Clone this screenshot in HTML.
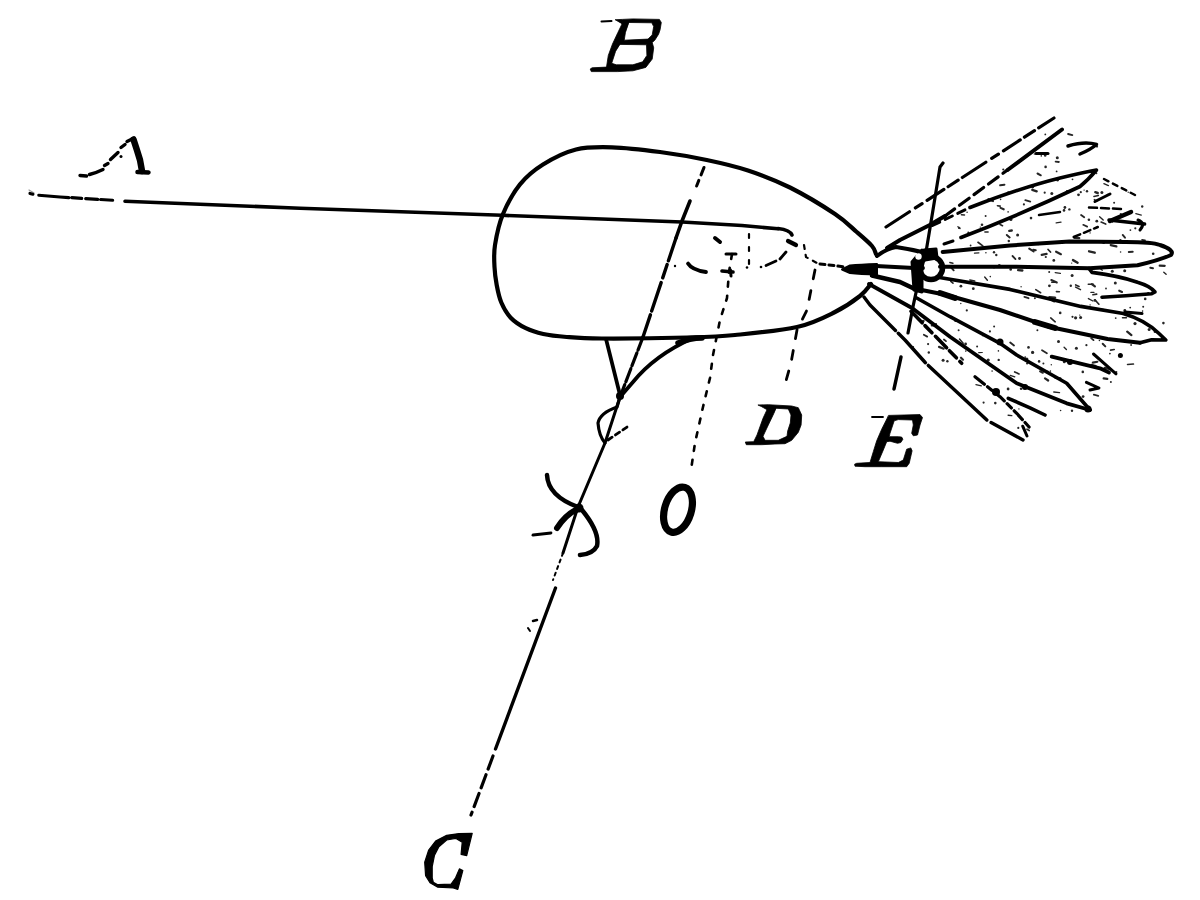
<!DOCTYPE html>
<html><head><meta charset="utf-8"><style>
html,body{margin:0;padding:0;background:#fff;width:1200px;height:900px;overflow:hidden}
svg{display:block}
</style></head><body>
<svg width="1200" height="900" viewBox="0 0 1200 900">
<g fill="none" stroke="#000" stroke-linecap="round" stroke-linejoin="round">
<path d="M30.0 193.5 L36.0 195.0 L60.0 197.0 L117.0 200.5" stroke-width="3.2" stroke-dasharray="3 6 30 3 10 4 12 3 12 40"/>
<path d="M29.0 190.0 L34.0 193.0" stroke-width="1.2" stroke-opacity="0.4"/>
<path d="M125.0 201.3 L300.0 208.2 L502.0 215.3 L682.0 222.0 L742.0 225.5 L778.0 228.8" stroke-width="3.6"/>
<path d="M778 228.5 Q790 230 792 235" stroke-width="3.6"/>
<path d="M876.0 254.0 C875.3 252.7 875.2 249.7 872.0 246.0 C868.8 242.3 862.9 237.3 856.7 232.0 C850.5 226.7 846.1 221.4 835.0 214.0 C823.9 206.6 804.5 194.8 790.0 187.5 C775.5 180.2 761.9 175.1 748.0 170.5 C734.1 165.9 721.4 163.1 706.7 160.0 C692.0 156.9 675.8 154.1 660.0 152.0 C644.2 149.9 626.0 147.7 612.0 147.3 C598.0 146.9 587.5 146.6 576.0 149.5 C564.5 152.4 552.3 158.7 543.0 164.5 C533.7 170.3 526.7 176.1 520.0 184.3 C513.3 192.6 507.2 203.9 503.0 214.0 C498.8 224.1 496.4 236.2 495.0 245.0 C493.6 253.8 494.2 260.3 494.5 267.0 C494.8 273.7 495.6 279.1 496.7 285.0 C497.8 290.9 499.0 297.1 501.3 302.5 C503.6 307.9 506.6 313.4 510.7 317.7 C514.8 322.0 520.4 325.5 525.8 328.2 C531.2 330.9 536.5 332.5 543.3 334.0 C550.1 335.5 557.0 336.2 566.7 337.0 C576.4 337.8 581.7 338.4 601.7 338.5 C621.8 338.6 664.8 338.1 687.0 337.5 C709.2 336.9 716.7 336.8 735.0 335.0 C753.3 333.2 780.3 330.8 797.0 327.0 C813.7 323.2 824.5 317.2 835.0 312.0 C845.5 306.8 854.0 300.7 860.0 296.0 C866.0 291.3 869.2 286.0 871.0 284.0" stroke-width="4.2"/>
<path d="M788.0 241.0 L796.0 245.0" stroke-width="4.2"/>
<path d="M786.0 252.0 L780.0 259.0" stroke-width="2.8"/>
<path d="M776.0 261.0 L766.0 265.5" stroke-width="2.8"/>
<circle cx="761" cy="267" r="1.3" fill="#000" stroke="none"/><circle cx="747" cy="267.5" r="1.3" fill="#000" stroke="none"/><circle cx="675" cy="266" r="1.2" fill="#000" stroke="none"/>
<path d="M722.0 271.0 L733.0 272.0" stroke-width="3.6"/>
<path d="M730.5 270.0 L731.0 276.0" stroke-width="3"/>
<path d="M688 263.5 Q692 270 706 272" stroke-width="3.8"/>
<path d="M715.0 238.0 L720.0 242.0" stroke-width="4"/>
<path d="M726.0 254.0 L736.0 254.0" stroke-width="3"/>
<path d="M749.0 234.0 L749.0 268.0" stroke-width="2.2" stroke-dasharray="4 9"/>
<path d="M804.0 245.0 L806.0 257.0 L817.0 263.0" stroke-width="2.2" stroke-dasharray="4 6"/>
<path d="M820.0 264.0 L846.0 267.0" stroke-width="3" stroke-dasharray="5 4"/>
<path d="M707.0 160.0 L695.0 190.0" stroke-width="3" stroke-dasharray="0 8 8 6 6 40"/>
<path d="M690.0 201.0 L682.0 221.0 L676.0 238.0" stroke-width="3.6"/>
<path d="M676.0 238.0 L643.0 337.0" stroke-width="3.4" stroke-dasharray="24 4 14 5 30 4 40"/>
<path d="M643.0 337.0 L620.0 397.0" stroke-width="3.2" stroke-dasharray="14 3"/>
<path d="M620.0 397.0 L605.0 443.0 L578.0 507.0 L563.0 553.0" stroke-width="3"/>
<path d="M563.0 553.0 L553.0 580.0" stroke-width="2" stroke-dasharray="3 4"/>
<path d="M555.5 588.0 L495.5 749.0" stroke-width="3.4"/>
<path d="M533.0 621.0 L537.0 620.0" stroke-width="2.5"/>
<path d="M528.0 628.0 L530.0 631.0" stroke-width="2"/>
<path d="M493.0 756.0 L471.0 815.0" stroke-width="3.2" stroke-dasharray="14 6"/>
<path d="M732.0 254.0 L729.0 272.0 L727.0 298.0 L720.0 320.0 L713.0 355.0 L710.0 378.0 L703.0 407.0 L695.0 443.0 L691.0 470.0" stroke-width="2.6" stroke-dasharray="5 9"/>
<path d="M815.0 270.0 L807.0 310.0 L797.0 330.0 L791.0 363.0 L784.0 388.0" stroke-width="2.8" stroke-dasharray="9 12"/>
<path d="M943.0 163.0 L940.0 167.0 L932.0 216.0 L926.5 249.0 L918.7 280.0 L913.0 306.7 L908.0 333.0" stroke-width="3.2"/>
<path d="M901.0 357.0 L894.0 389.0" stroke-width="3.5"/>
<path d="M606.0 339.0 L620.0 395.0" stroke-width="3.8"/>
<path d="M693 338 Q655 355 633 382 L620 397" stroke-width="3.8"/>
<path d="M678 343 Q690 338 702 338" stroke-width="5.5"/>
<path d="M620 397 L617 407 Q600 413 598 423 Q599 436 605 443" stroke-width="3.2"/>
<path d="M608.0 440.0 L630.0 425.0" stroke-width="2.8" stroke-dasharray="5 4"/>
<circle cx="620" cy="396" r="4" fill="#000" stroke="none"/>
<path d="M547 475 Q548 496 578 507" stroke-width="4.5"/>
<path d="M578 509 Q566 514 557 528" stroke-width="6"/>
<path d="M533.0 535.0 L551.0 533.0" stroke-width="2.8"/>
<path d="M582 510 Q600 532 597 546 Q593 554 580 555" stroke-width="4.5"/>
<circle cx="579" cy="508" r="4.5" fill="#000" stroke="none"/>
<path d="M842 269.5 L850 265.5 Q860 264.5 877 264 L877 274.5 Q860 274 850 273 Z" fill="#000" stroke-width="2"/>
<path d="M877 256 Q886 249 896 247 Q910 249 926 253" stroke-width="4"/>
<path d="M876 266 L914 268 L923 268" stroke-width="3.8"/>
<path d="M872 275.5 L900 282 L917 290" stroke-width="4.5"/>
<path d="M912 262 L914 290 L922 292 L922 250 Z" fill="#000" stroke-width="3"/>
<circle cx="931" cy="268" r="11.5" stroke-width="5.5"/>
<path d="M924 250 L936 249 L937 258 L925 260 Z" fill="#000" stroke-width="3"/>
<circle cx="918.5" cy="256.5" r="3.2" fill="#fff" stroke="none"/>
<path d="M886.0 227.0 L1054.0 118.0" stroke-width="3.2" stroke-dasharray="28 7 8 6 20 5 12 5"/>
<path d="M887.0 248.0 L900.0 240.0 L929.3 225.3 L945.0 216.0" stroke-width="4"/>
<path d="M945.0 216.0 L1007.5 170.0" stroke-width="3.2" stroke-dasharray="12 6"/>
<path d="M1007.5 170.0 L1062.0 129.5" stroke-width="4"/>
<path d="M1036.0 153.5 L1048.0 153.5" stroke-width="3"/>
<path d="M1068 146 Q1085 141 1096.5 144.5 Q1090 150 1080 154" stroke-width="3.5"/>
<path d="M932.5 225.5 L970.0 207.5" stroke-width="3" stroke-dasharray="8 6"/>
<path d="M970 207.5 Q1020 188 1060 178 Q1085 172 1096.5 170 Q1088 180 1080 186.5 Q1020 215 961 237.5" stroke-width="3.6"/>
<path d="M944.0 244.0 L953.0 241.0" stroke-width="3"/>
<path d="M1039.0 215.0 L1060.0 212.0" stroke-width="2.5"/>
<path d="M1089.0 207.5 L1122.0 209.0" stroke-width="2.5" stroke-dasharray="8 4"/>
<path d="M1095.0 201.5 L1110.0 194.0" stroke-width="3"/>
<path d="M1104.0 179.0 L1135.0 195.0" stroke-width="2.5" stroke-dasharray="5 5"/>
<path d="M1110.0 221.0 L1131.0 212.0" stroke-width="4.5"/>
<path d="M1138 220 Q1146 223 1140 230" stroke-width="3"/>
<path d="M1109.0 220.0 L1144.6 224.0" stroke-width="3.5"/>
<path d="M1073.7 237.0 L1097.8 227.0" stroke-width="2.5" stroke-dasharray="7 4"/>
<path d="M942.7 252 L1010 245.5 L1069.5 241.5 L1126 242 Q1152 242 1160 245 Q1175 250 1171 255 Q1160 260 1137.5 265.3 L1089.3 268.2 L1010 266.7 L940 266.7" stroke-width="4"/>
<path d="M1089 268.5 L1092 272.4 Q1120 276 1137.5 282.3 Q1150 286 1155 292 L1151.7 293.7 Q1125 296 1102 297.2" stroke-width="3.6"/>
<path d="M938 277.3 L1010 289.4 L1080.8 306.4 L1123.3 313.5 Q1145 320 1158.7 333.3 L1165.8 340 L1151.6 339.8 L1140 342.7" stroke-width="3.6"/>
<path d="M921.7 290 L946.7 295 L1000 310 L1050 327 L1107.6 339 L1140 342.7" stroke-width="4"/>
<path d="M940 293 L955 298" stroke-width="6"/>
<path d="M1035 322 L1055 328" stroke-width="6"/>
<path d="M1125.0 312.0 L1142.0 313.5" stroke-width="3"/>
<path d="M1051.7 356.7 L1100.0 368.3 L1109.0 372.4" stroke-width="3.8"/>
<path d="M1093.5 354.0 L1116.0 373.8" stroke-width="3"/>
<circle cx="1120.4" cy="355.4" r="2.5" fill="#000" stroke="none"/>
<circle cx="1070" cy="362" r="3" fill="#000" stroke="none"/>
<path d="M916.7 298 L950 316.7 L1000 343.3 L1016.7 355 L1066.7 383.3 L1090 410" stroke-width="3.6"/>
<path d="M869 284 L912 308 L950 336.7 L1016.7 383.3 L1066.7 403.3 L1090 410" stroke-width="3.8"/>
<circle cx="1000" cy="342" r="3.5" fill="#000" stroke="none"/>
<circle cx="1025" cy="387" r="3" fill="#000" stroke="none"/>
<circle cx="1088" cy="409" r="3.5" fill="#000" stroke="none"/>
<path d="M1086.4 382.3 L1099 388 L1090 390" stroke-width="3"/>
<path d="M911.0 311.3 L961.7 363.3" stroke-width="3.6" stroke-dasharray="16 4 10 5"/>
<path d="M864.0 297.0 L870.0 305.0 L905.0 340.0 L925.2 362.5 L987.5 420.6 L1023.0 440.0" stroke-width="3.4" stroke-dasharray="46 4 40 4 80 5"/>
<path d="M975.0 376.7 L1000.0 396.7 L1016.7 413.3 L1030.0 428.0" stroke-width="3.2" stroke-dasharray="12 4 6 4"/>
<circle cx="996" cy="392" r="4" fill="#000" stroke="none"/>
<path d="M1008.3 398.3 L1030.0 407.8 L1045.0 415.0" stroke-width="3.6"/>
<path d="M1022.7 426.2 L1027.0 436.0" stroke-width="3"/>
</g>
<g fill="none" stroke="#000" stroke-linecap="round" stroke-linejoin="round">
<path d="M615.5 19.7 L622.3 19.4 L632.9 18.9 L659.4 19.4 L661.3 22.5 L660.1 29.7 L658.6 34.2 L654.8 40.2 L652.2 42.5 L653.7 47.8 L652.2 59.1 L645.8 67.4 L632.9 70.8 L617.8 71.6 L591.3 71.6 L590.2 69.0 L592.1 67.8 L606.5 67.1 L608.3 55.4 L612.5 44.0 L617.8 32.7 L622.0 24.0 Z M629.1 22.5 L651.8 22.8 L653.7 26.6 L652.2 34.9 L648.0 39.1 L624.2 40.2 L625.4 32.7 Z M620.1 44.4 L646.5 44.8 L646.9 55.4 L642.7 61.8 L632.9 64.8 L616.3 64.8 L611.7 63.3 L615.5 51.6 Z" fill="#000" fill-rule="evenodd" stroke="#000" stroke-width="0.8"/>
<path d="M601.5 21.5 L611.5 21" stroke-width="2"/>
<path d="M758.3 405.0 L768.3 404.7 L791.7 406.0 L798.3 407.7 L801.7 415.0 L801.1 425.0 L798.3 432.3 L791.7 440.3 L785.0 443.7 L775.0 444.0 L761.7 444.7 L746.3 444.7 L745.3 442.0 L753.7 441.7 L757.0 435.0 L763.0 418.3 L767.0 409.7 L761.7 406.7 Z M776.3 408.3 L788.3 409.0 L791.0 415.0 L790.3 423.0 L787.7 431.0 L787.0 436.3 L778.3 440.3 L765.0 440.3 L763.0 436.3 L768.3 425.0 L773.7 413.7 Z" fill="#000" fill-rule="evenodd" stroke="#000" stroke-width="0.8"/>
<path d="M888.8 415.4 L920.0 414.6 L922.5 417.5 L920.0 425.0 L917.5 435.0 L913.3 435.8 L911.7 433.3 L913.3 425.0 L912.5 420.0 L898.3 419.6 L894.2 420.8 L890.0 433.3 L889.2 436.7 L898.3 436.7 L901.7 437.1 L902.9 439.2 L900.8 442.5 L897.5 443.3 L890.0 441.2 L886.7 441.7 L883.3 450.0 L878.3 461.7 L898.3 462.5 L903.3 460.0 L906.7 449.2 L910.8 447.9 L912.1 450.8 L909.2 463.3 L906.7 466.7 L881.7 466.7 L865.0 466.7 L855.0 466.2 L854.6 464.2 L856.7 463.3 L870.0 462.5 L873.3 451.7 L876.7 440.8 L881.7 429.2 L886.7 419.2 Z" fill="#000" stroke="#000" stroke-width="0.8"/>
<path d="M872 417 L883 417" stroke-width="1.8"/>
<path d="M472.2 833.3 L466.7 855.6 L461.1 854.4 L462.2 842.2 L455.6 838.3 L446.7 840.0 L438.9 846.7 L434.4 855.6 L432.2 866.7 L432.2 877.8 L433.3 882.2 L437.8 884.7 L451.1 884.2 L455.6 877.8 L459.4 868.9 L462.8 870.6 L457.8 889.4 L453.3 888.0 L437.8 887.2 L430.0 882.8 L425.6 875.6 L424.7 862.2 L428.7 850.0 L435.6 841.1 L446.7 835.3 L458.9 833.6 Z" fill="#000" stroke="#000" stroke-width="1.2"/>
<path d="M80 175.5 L86.5 176 M89.5 174.5 Q97 172.5 103 169.5 M104.5 165.5 L108 163.5 M110.5 159.5 L118 152.5 M121 147.5 L125 144.5 M127 141.5 L134 138" stroke-width="3.4"/>
<path d="M133.5 139.5 Q137 150 140 160 L142 171" stroke-width="6.5"/>
<path d="M137.5 172 L148.5 172.5" stroke-width="4.5"/>
<circle cx="121" cy="156.5" r="1.5" fill="#000" stroke="none"/>
</g>
<g fill="#000" stroke="none" opacity="0.85"><path d="M1024.4 296.9 l4.1 1.3" stroke="#000" stroke-width="1.9" fill="none" stroke-linecap="round"/><path d="M950.8 281.4 l2.2 1.8" stroke="#000" stroke-width="1.6" fill="none" stroke-linecap="round"/><circle cx="1079.8" cy="315.1" r="0.7"/><circle cx="1045.3" cy="134.4" r="0.9"/><circle cx="1021.1" cy="388.8" r="1.3"/><circle cx="1037.4" cy="330.3" r="1.0"/><circle cx="1131.1" cy="345.0" r="0.9"/><path d="M1110.7 245.1 l5.7 1.3" stroke="#000" stroke-width="2.2" fill="none" stroke-linecap="round"/><path d="M1150.3 267.7 l2.7 0.6" stroke="#000" stroke-width="2.0" fill="none" stroke-linecap="round"/><circle cx="1114.1" cy="202.7" r="1.0"/><circle cx="1053.8" cy="260.4" r="1.4"/><circle cx="936.0" cy="324.2" r="1.1"/><circle cx="983.6" cy="402.6" r="1.1"/><circle cx="1135.0" cy="323.6" r="1.6"/><circle cx="1112.5" cy="221.9" r="0.8"/><circle cx="966.8" cy="310.4" r="1.1"/><path d="M1163.8 272.2 l2.3 2.1" stroke="#000" stroke-width="1.4" fill="none" stroke-linecap="round"/><circle cx="1142.6" cy="311.1" r="0.8"/><circle cx="965.6" cy="344.0" r="1.4"/><circle cx="1064.0" cy="210.4" r="1.3"/><path d="M1053.8 392.0 l5.7 0.6" stroke="#000" stroke-width="1.4" fill="none" stroke-linecap="round"/><circle cx="1057.3" cy="157.8" r="1.5"/><circle cx="1090.1" cy="304.9" r="0.7"/><circle cx="1032.6" cy="352.4" r="1.6"/><path d="M1102.7 343.7 l2.6 2.7" stroke="#000" stroke-width="2.0" fill="none" stroke-linecap="round"/><path d="M1014.7 371.9 l4.3 2.0" stroke="#000" stroke-width="1.7" fill="none" stroke-linecap="round"/><circle cx="1060.2" cy="312.9" r="1.3"/><path d="M1100.3 241.2 l3.7 1.7" stroke="#000" stroke-width="2.2" fill="none" stroke-linecap="round"/><path d="M1032.3 189.8 l4.4 1.6" stroke="#000" stroke-width="2.3" fill="none" stroke-linecap="round"/><circle cx="982.8" cy="335.4" r="0.9"/><circle cx="1149.1" cy="329.5" r="1.5"/><circle cx="989.9" cy="331.4" r="1.1"/><path d="M1142.1 239.9 l2.9 0.4" stroke="#000" stroke-width="1.8" fill="none" stroke-linecap="round"/><circle cx="1023.9" cy="204.4" r="1.1"/><circle cx="1072.1" cy="275.5" r="1.5"/><circle cx="1094.9" cy="300.4" r="1.4"/><circle cx="1128.2" cy="192.2" r="0.7"/><path d="M1073.0 260.1 l4.6 2.6" stroke="#000" stroke-width="2.4" fill="none" stroke-linecap="round"/><circle cx="1088.2" cy="179.8" r="0.9"/><circle cx="1096.4" cy="173.2" r="1.0"/><path d="M1091.8 284.1 l3.1 2.3" stroke="#000" stroke-width="2.2" fill="none" stroke-linecap="round"/><circle cx="1072.0" cy="410.7" r="1.2"/><path d="M1159.7 265.7 l5.0 0.1" stroke="#000" stroke-width="2.2" fill="none" stroke-linecap="round"/><circle cx="1076.4" cy="348.2" r="1.5"/><circle cx="1047.7" cy="372.0" r="1.5"/><circle cx="1135.3" cy="228.3" r="1.1"/><circle cx="1051.3" cy="364.7" r="0.7"/><circle cx="992.1" cy="371.1" r="0.8"/><path d="M1042.0 350.2 l4.9 3.1" stroke="#000" stroke-width="1.8" fill="none" stroke-linecap="round"/><circle cx="960.9" cy="286.2" r="1.4"/><path d="M1075.7 284.9 l3.3 1.5" stroke="#000" stroke-width="1.7" fill="none" stroke-linecap="round"/><circle cx="1057.6" cy="180.3" r="1.2"/><path d="M1010.2 375.3 l4.6 1.6" stroke="#000" stroke-width="1.3" fill="none" stroke-linecap="round"/><path d="M1048.1 249.5 l2.4 2.5" stroke="#000" stroke-width="1.8" fill="none" stroke-linecap="round"/><circle cx="1031.0" cy="218.1" r="1.3"/><circle cx="1088.9" cy="219.7" r="1.3"/><circle cx="928.8" cy="352.5" r="1.2"/><circle cx="1045.8" cy="257.0" r="1.1"/><circle cx="1045.6" cy="166.9" r="1.3"/><path d="M1075.6 287.1 l4.9 2.5" stroke="#000" stroke-width="1.5" fill="none" stroke-linecap="round"/><path d="M1103.7 378.4 l3.6 0.5" stroke="#000" stroke-width="2.3" fill="none" stroke-linecap="round"/><circle cx="965.8" cy="351.1" r="0.8"/><path d="M1128.8 252.0 l3.9 -0.2" stroke="#000" stroke-width="2.0" fill="none" stroke-linecap="round"/><circle cx="1039.1" cy="361.4" r="1.3"/><path d="M1051.7 282.3 l3.1 -0.1" stroke="#000" stroke-width="1.4" fill="none" stroke-linecap="round"/><circle cx="1027.1" cy="363.5" r="1.1"/><path d="M1041.7 254.8 l4.9 -0.9" stroke="#000" stroke-width="2.2" fill="none" stroke-linecap="round"/><path d="M949.8 262.5 l3.1 0.8" stroke="#000" stroke-width="1.4" fill="none" stroke-linecap="round"/><path d="M1093.8 394.7 l4.5 1.1" stroke="#000" stroke-width="1.8" fill="none" stroke-linecap="round"/><path d="M1104.7 367.8 l5.5 1.4" stroke="#000" stroke-width="2.3" fill="none" stroke-linecap="round"/><path d="M1091.1 364.4 l4.9 1.2" stroke="#000" stroke-width="1.3" fill="none" stroke-linecap="round"/><circle cx="994.0" cy="267.4" r="1.0"/><circle cx="1075.6" cy="317.8" r="1.6"/><path d="M1083.2 224.8 l4.0 1.8" stroke="#000" stroke-width="1.7" fill="none" stroke-linecap="round"/><path d="M1092.8 362.6 l4.6 -0.8" stroke="#000" stroke-width="2.1" fill="none" stroke-linecap="round"/><circle cx="970.6" cy="245.5" r="0.9"/><path d="M1051.3 280.0 l5.5 2.5" stroke="#000" stroke-width="2.0" fill="none" stroke-linecap="round"/><circle cx="1064.3" cy="361.8" r="1.5"/><circle cx="944.0" cy="268.3" r="1.1"/><path d="M1068.1 134.0 l4.2 1.1" stroke="#000" stroke-width="1.9" fill="none" stroke-linecap="round"/><path d="M1000.5 207.9 l3.2 1.4" stroke="#000" stroke-width="2.1" fill="none" stroke-linecap="round"/><circle cx="943.1" cy="360.3" r="1.5"/><path d="M1018.1 270.2 l4.3 0.3" stroke="#000" stroke-width="2.3" fill="none" stroke-linecap="round"/><path d="M1098.8 267.2 l3.5 3.0" stroke="#000" stroke-width="1.3" fill="none" stroke-linecap="round"/><circle cx="1071.7" cy="263.1" r="0.7"/><circle cx="1045.2" cy="155.4" r="1.3"/><path d="M1025.3 200.2 l5.0 1.4" stroke="#000" stroke-width="1.8" fill="none" stroke-linecap="round"/><circle cx="1101.9" cy="192.5" r="1.5"/><circle cx="1115.7" cy="318.1" r="0.9"/><path d="M1088.4 298.6 l4.5 2.4" stroke="#000" stroke-width="1.4" fill="none" stroke-linecap="round"/><path d="M974.5 253.2 l4.4 -0.4" stroke="#000" stroke-width="1.3" fill="none" stroke-linecap="round"/><path d="M923.8 334.8 l3.4 1.8" stroke="#000" stroke-width="1.8" fill="none" stroke-linecap="round"/><path d="M957.9 226.7 l2.1 1.8" stroke="#000" stroke-width="1.3" fill="none" stroke-linecap="round"/><path d="M1122.5 317.7 l4.0 0.1" stroke="#000" stroke-width="1.5" fill="none" stroke-linecap="round"/><path d="M1122.7 234.9 l2.3 2.8" stroke="#000" stroke-width="1.9" fill="none" stroke-linecap="round"/><circle cx="1017.6" cy="235.0" r="1.5"/><path d="M1055.2 272.6 l5.2 0.7" stroke="#000" stroke-width="1.3" fill="none" stroke-linecap="round"/><circle cx="958.6" cy="330.2" r="1.0"/><circle cx="1099.4" cy="340.5" r="0.8"/><circle cx="998.4" cy="350.9" r="0.8"/><path d="M1095.1 300.0 l3.8 4.2" stroke="#000" stroke-width="1.7" fill="none" stroke-linecap="round"/><circle cx="1120.8" cy="214.0" r="1.1"/><circle cx="968.3" cy="232.6" r="1.0"/><circle cx="1008.8" cy="241.0" r="1.2"/><path d="M1119.2 290.7 l2.8 1.3" stroke="#000" stroke-width="2.1" fill="none" stroke-linecap="round"/><circle cx="1142.2" cy="206.5" r="1.2"/><path d="M1049.6 299.4 l4.6 2.6" stroke="#000" stroke-width="1.3" fill="none" stroke-linecap="round"/><circle cx="1050.4" cy="371.1" r="0.8"/><circle cx="923.3" cy="321.1" r="1.4"/><circle cx="1078.5" cy="194.8" r="1.4"/><circle cx="1043.4" cy="363.5" r="1.0"/><path d="M1035.8 289.6 l4.8 3.1" stroke="#000" stroke-width="1.7" fill="none" stroke-linecap="round"/><path d="M1127.2 331.7 l4.2 3.4" stroke="#000" stroke-width="2.3" fill="none" stroke-linecap="round"/><circle cx="1163.4" cy="323.1" r="1.3"/><circle cx="1120.6" cy="252.0" r="0.8"/><circle cx="1003.3" cy="169.5" r="1.1"/><path d="M931.6 325.6 l2.7 -0.0" stroke="#000" stroke-width="1.8" fill="none" stroke-linecap="round"/><circle cx="1060.6" cy="410.5" r="0.8"/><path d="M964.7 348.1 l3.1 0.1" stroke="#000" stroke-width="1.5" fill="none" stroke-linecap="round"/><circle cx="947.4" cy="361.2" r="1.2"/><circle cx="1124.7" cy="270.8" r="1.5"/><circle cx="1032.7" cy="186.8" r="1.6"/><circle cx="1120.4" cy="240.1" r="1.2"/><circle cx="1080.8" cy="192.2" r="1.1"/><path d="M1002.2 374.0 l2.7 1.4" stroke="#000" stroke-width="1.4" fill="none" stroke-linecap="round"/><path d="M988.5 199.3 l4.4 1.7" stroke="#000" stroke-width="2.4" fill="none" stroke-linecap="round"/><circle cx="973.3" cy="288.7" r="1.4"/><circle cx="1097.0" cy="146.6" r="1.1"/><path d="M1135.8 213.7 l5.5 1.5" stroke="#000" stroke-width="1.3" fill="none" stroke-linecap="round"/><circle cx="1049.4" cy="285.8" r="1.4"/><circle cx="985.6" cy="216.0" r="1.0"/><circle cx="1028.5" cy="347.4" r="1.3"/><path d="M1027.0 429.2 l2.2 1.3" stroke="#000" stroke-width="1.7" fill="none" stroke-linecap="round"/><path d="M1095.3 192.2 l2.4 0.8" stroke="#000" stroke-width="2.4" fill="none" stroke-linecap="round"/><circle cx="1069.4" cy="209.4" r="1.2"/><circle cx="982.0" cy="224.7" r="1.3"/><path d="M1101.1 222.1 l4.6 2.0" stroke="#000" stroke-width="1.6" fill="none" stroke-linecap="round"/><circle cx="1086.4" cy="345.2" r="1.1"/><circle cx="1130.2" cy="307.6" r="0.9"/><circle cx="1153.2" cy="253.8" r="1.3"/><circle cx="1110.9" cy="381.9" r="1.0"/><path d="M1010.2 342.5 l3.8 3.0" stroke="#000" stroke-width="1.9" fill="none" stroke-linecap="round"/><circle cx="994.1" cy="326.5" r="1.0"/><path d="M1040.1 371.3 l2.7 1.4" stroke="#000" stroke-width="2.1" fill="none" stroke-linecap="round"/><circle cx="1148.3" cy="293.2" r="1.2"/><path d="M939.0 346.9 l4.7 1.8" stroke="#000" stroke-width="2.2" fill="none" stroke-linecap="round"/><circle cx="1072.5" cy="179.3" r="0.9"/><circle cx="1058.5" cy="341.6" r="1.5"/><circle cx="999.3" cy="265.5" r="1.6"/><path d="M1049.4 297.2 l5.7 0.5" stroke="#000" stroke-width="2.4" fill="none" stroke-linecap="round"/><circle cx="1124.8" cy="310.5" r="1.4"/><path d="M966.2 301.4 l4.4 0.0" stroke="#000" stroke-width="1.3" fill="none" stroke-linecap="round"/><path d="M1081.1 215.0 l3.1 2.2" stroke="#000" stroke-width="1.9" fill="none" stroke-linecap="round"/><circle cx="954.9" cy="267.1" r="1.0"/><circle cx="1056.6" cy="171.4" r="0.9"/><path d="M1056.2 222.9 l4.8 -0.8" stroke="#000" stroke-width="1.4" fill="none" stroke-linecap="round"/><path d="M1029.2 248.7 l4.4 2.7" stroke="#000" stroke-width="2.1" fill="none" stroke-linecap="round"/><path d="M1012.5 256.0 l3.0 3.1" stroke="#000" stroke-width="1.8" fill="none" stroke-linecap="round"/><circle cx="1018.9" cy="408.9" r="0.7"/><path d="M1101.3 309.2 l4.5 0.6" stroke="#000" stroke-width="1.3" fill="none" stroke-linecap="round"/><circle cx="1038.2" cy="243.9" r="1.3"/><circle cx="1044.7" cy="192.7" r="1.1"/><circle cx="1083.1" cy="396.6" r="1.4"/><path d="M961.0 357.7 l2.0 2.0" stroke="#000" stroke-width="2.2" fill="none" stroke-linecap="round"/><circle cx="967.1" cy="212.3" r="0.8"/><path d="M1009.2 230.9 l2.6 -0.4" stroke="#000" stroke-width="2.3" fill="none" stroke-linecap="round"/><path d="M984.7 277.0 l2.7 3.2" stroke="#000" stroke-width="1.4" fill="none" stroke-linecap="round"/><circle cx="1130.4" cy="230.1" r="0.9"/><circle cx="955.6" cy="320.5" r="1.5"/><path d="M1099.6 216.7 l3.6 3.4" stroke="#000" stroke-width="1.4" fill="none" stroke-linecap="round"/><path d="M961.4 214.8 l3.1 0.1" stroke="#000" stroke-width="1.5" fill="none" stroke-linecap="round"/><circle cx="1082.8" cy="371.9" r="1.3"/><circle cx="1143.2" cy="306.7" r="1.0"/><circle cx="1154.9" cy="331.8" r="1.3"/><circle cx="1021.1" cy="286.7" r="0.7"/><circle cx="1064.9" cy="207.5" r="1.4"/><circle cx="1107.8" cy="194.9" r="1.2"/><circle cx="1026.9" cy="358.9" r="1.5"/><path d="M1037.5 173.5 l3.3 1.8" stroke="#000" stroke-width="2.0" fill="none" stroke-linecap="round"/><circle cx="1115.3" cy="282.9" r="1.5"/><path d="M1088.2 284.2 l5.2 -0.0" stroke="#000" stroke-width="1.4" fill="none" stroke-linecap="round"/><circle cx="1067.2" cy="191.5" r="1.4"/><circle cx="1116.3" cy="372.1" r="1.1"/><circle cx="960.8" cy="303.5" r="0.7"/><path d="M1064.1 347.3 l2.3 2.2" stroke="#000" stroke-width="1.4" fill="none" stroke-linecap="round"/><circle cx="1019.5" cy="258.5" r="1.4"/><path d="M1056.4 291.6 l3.0 0.2" stroke="#000" stroke-width="1.6" fill="none" stroke-linecap="round"/><circle cx="1070.8" cy="285.8" r="1.2"/><path d="M943.9 339.5 l2.1 1.7" stroke="#000" stroke-width="1.7" fill="none" stroke-linecap="round"/><path d="M1000.2 185.3 l4.2 -0.6" stroke="#000" stroke-width="2.1" fill="none" stroke-linecap="round"/><circle cx="1025.2" cy="357.1" r="0.9"/><circle cx="1008.1" cy="211.9" r="0.8"/><circle cx="1109.9" cy="353.6" r="0.9"/><circle cx="1051.8" cy="193.5" r="1.5"/><path d="M1000.1 224.5 l2.4 1.2" stroke="#000" stroke-width="1.7" fill="none" stroke-linecap="round"/><path d="M994.4 340.8 l5.0 2.4" stroke="#000" stroke-width="1.8" fill="none" stroke-linecap="round"/><circle cx="1008.1" cy="389.0" r="1.4"/><circle cx="959.2" cy="227.9" r="1.2"/><circle cx="959.0" cy="267.0" r="1.1"/><circle cx="1090.1" cy="232.9" r="0.7"/><path d="M1008.1 415.2 l3.7 0.4" stroke="#000" stroke-width="1.4" fill="none" stroke-linecap="round"/><path d="M1110.6 350.1 l3.6 -0.6" stroke="#000" stroke-width="1.7" fill="none" stroke-linecap="round"/><circle cx="989.4" cy="365.5" r="0.7"/><circle cx="1008.3" cy="192.4" r="0.8"/><circle cx="985.9" cy="252.8" r="0.8"/><path d="M1094.3 199.6 l2.6 1.5" stroke="#000" stroke-width="1.4" fill="none" stroke-linecap="round"/><circle cx="977.1" cy="346.6" r="1.0"/><circle cx="980.3" cy="227.1" r="0.7"/><path d="M1055.6 377.8 l4.8 0.6" stroke="#000" stroke-width="2.3" fill="none" stroke-linecap="round"/><path d="M959.5 339.0 l3.7 4.2" stroke="#000" stroke-width="1.5" fill="none" stroke-linecap="round"/><circle cx="1073.9" cy="144.2" r="1.1"/><circle cx="990.3" cy="276.6" r="0.8"/><circle cx="1010.7" cy="269.4" r="1.3"/><circle cx="994.0" cy="252.2" r="1.2"/><path d="M1092.9 294.8 l3.8 -0.7" stroke="#000" stroke-width="1.6" fill="none" stroke-linecap="round"/><circle cx="1061.1" cy="267.4" r="0.9"/><circle cx="1145.2" cy="298.9" r="1.3"/><path d="M951.2 267.5 l2.5 2.8" stroke="#000" stroke-width="1.9" fill="none" stroke-linecap="round"/><circle cx="1072.5" cy="316.8" r="1.1"/><path d="M975.9 384.6 l5.5 1.2" stroke="#000" stroke-width="1.2" fill="none" stroke-linecap="round"/><path d="M984.9 232.1 l3.2 -0.1" stroke="#000" stroke-width="1.5" fill="none" stroke-linecap="round"/><circle cx="1087.0" cy="191.2" r="1.2"/><circle cx="1008.3" cy="192.8" r="1.3"/><path d="M1050.7 317.9 l4.5 3.9" stroke="#000" stroke-width="1.6" fill="none" stroke-linecap="round"/><circle cx="995.3" cy="403.1" r="1.3"/><path d="M1091.2 338.1 l2.3 2.0" stroke="#000" stroke-width="1.9" fill="none" stroke-linecap="round"/><circle cx="1034.9" cy="298.2" r="1.0"/><circle cx="1106.0" cy="288.5" r="0.9"/><circle cx="1041.3" cy="155.9" r="0.8"/><circle cx="928.1" cy="344.1" r="1.1"/><circle cx="1112.3" cy="271.2" r="1.5"/><path d="M969.8 279.9 l4.9 1.1" stroke="#000" stroke-width="1.5" fill="none" stroke-linecap="round"/><circle cx="1096.8" cy="221.2" r="1.4"/><path d="M1056.1 251.7 l4.8 2.5" stroke="#000" stroke-width="2.2" fill="none" stroke-linecap="round"/><circle cx="1084.1" cy="190.1" r="0.7"/><path d="M1089.1 251.3 l5.6 1.4" stroke="#000" stroke-width="2.4" fill="none" stroke-linecap="round"/><circle cx="913.4" cy="346.8" r="0.7"/><path d="M978.7 352.7 l3.6 -0.2" stroke="#000" stroke-width="1.2" fill="none" stroke-linecap="round"/><circle cx="1049.2" cy="272.0" r="1.0"/><path d="M978.0 242.3 l4.8 3.6" stroke="#000" stroke-width="1.7" fill="none" stroke-linecap="round"/><path d="M1090.9 292.4 l3.1 -0.1" stroke="#000" stroke-width="1.3" fill="none" stroke-linecap="round"/><circle cx="1034.3" cy="154.1" r="0.7"/><path d="M1055.6 161.7 l3.3 0.3" stroke="#000" stroke-width="1.8" fill="none" stroke-linecap="round"/><circle cx="1000.6" cy="199.4" r="0.8"/><path d="M1033.2 249.7 l2.6 0.6" stroke="#000" stroke-width="1.9" fill="none" stroke-linecap="round"/><circle cx="1080.6" cy="317.5" r="1.5"/><path d="M1021.9 386.0 l2.6 -0.0" stroke="#000" stroke-width="1.4" fill="none" stroke-linecap="round"/><circle cx="998.7" cy="359.9" r="1.2"/><path d="M1045.0 378.3 l3.2 2.2" stroke="#000" stroke-width="2.2" fill="none" stroke-linecap="round"/><path d="M1127.6 364.5 l5.8 -0.5" stroke="#000" stroke-width="1.7" fill="none" stroke-linecap="round"/><path d="M1093.9 196.4 l4.5 -0.8" stroke="#000" stroke-width="1.5" fill="none" stroke-linecap="round"/><path d="M1006.8 235.0 l2.9 2.4" stroke="#000" stroke-width="2.0" fill="none" stroke-linecap="round"/><path d="M997.4 205.7 l2.8 0.4" stroke="#000" stroke-width="1.6" fill="none" stroke-linecap="round"/><path d="M1103.9 183.7 l4.5 1.9" stroke="#000" stroke-width="1.4" fill="none" stroke-linecap="round"/><circle cx="996.3" cy="255.0" r="1.2"/><circle cx="1010.9" cy="219.5" r="1.6"/><circle cx="988.2" cy="360.1" r="1.6"/><circle cx="1018.3" cy="427.9" r="1.1"/><circle cx="1094.2" cy="172.8" r="1.3"/><path d="M1074.5 237.9 l4.7 0.2" stroke="#000" stroke-width="2.3" fill="none" stroke-linecap="round"/></g>
<ellipse cx="678" cy="509.7" rx="13.3" ry="23.3" transform="rotate(17 678 509.7)" fill="none" stroke="#000" stroke-width="7.2"/>
</svg>
</body></html>
